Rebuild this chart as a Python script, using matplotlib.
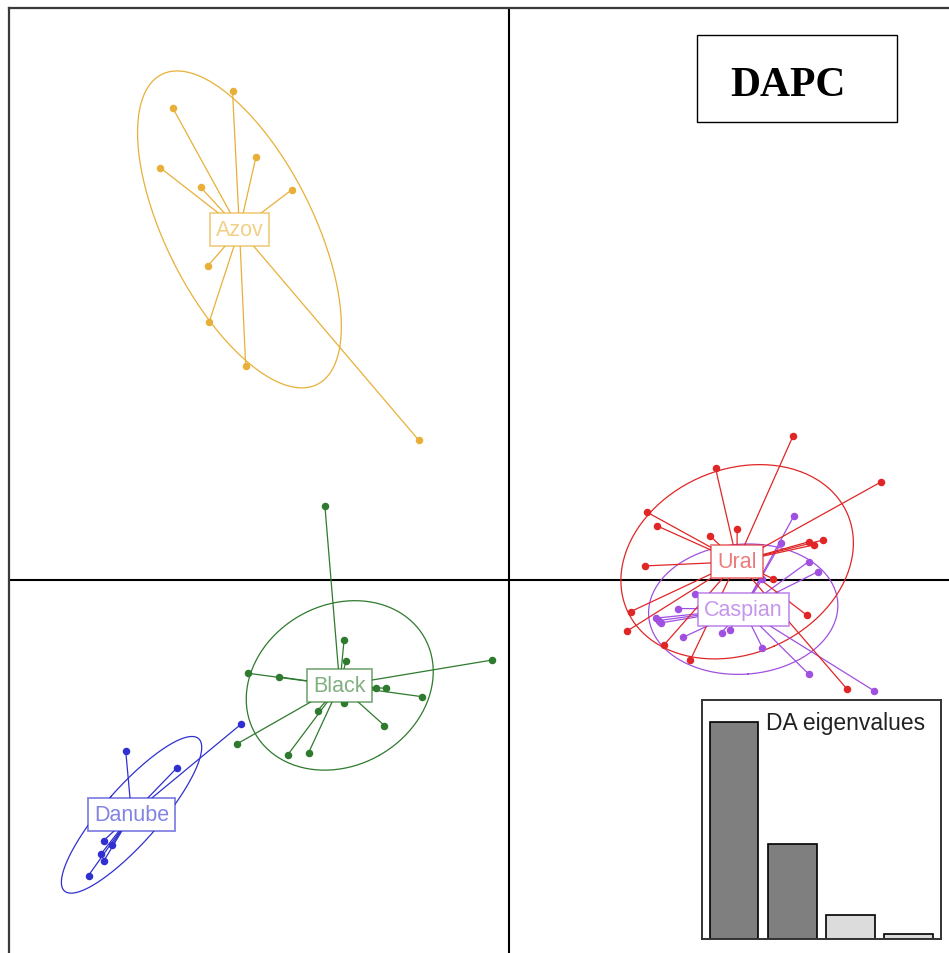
import numpy as np
import matplotlib
matplotlib.use("Agg")
import matplotlib.pyplot as plt
from matplotlib.patches import Rectangle

# Discriminant scores (LD1, LD2) of individuals for each population
azov_x = [-4.60, -5.60, -4.21, -5.81, -5.13, -3.61, -5.01, -4.99, -4.38, -1.50]
azov_y = [8.15, 7.87, 7.04, 6.87, 6.54, 6.50, 5.23, 4.29, 3.56, 2.33]

black_x = [-3.06, -2.74, -2.71, -4.34, -3.82, -0.28, -2.21, -2.05, -1.44, -2.75,
           -3.18, -2.07, -4.53, -3.68, -3.33]
black_y = [1.23, -1.00, -1.36, -1.56, -1.62, -1.34, -1.81, -1.81, -1.95, -2.06,
           -2.18, -2.43, -2.74, -2.92, -2.88]

danube_x = [-4.46, -6.38, -5.53, -6.75, -6.61, -6.79, -6.74, -7.00]
danube_y = [-2.41, -2.85, -3.14, -4.35, -4.42, -4.57, -4.68, -4.93]

ural_x = [4.74, 6.21, 3.45, 2.30, 2.47, 3.36, 3.81, 5.00, 5.09, 5.24, 2.28, 4.40,
          2.04, 1.97, 4.97, 2.59, 3.03, 5.64]
ural_y = [2.39, 1.63, 1.86, 1.13, 0.90, 0.73, 0.85, 0.63, 0.58, 0.66, 0.23, 0.02,
          -0.53, -0.86, -0.59, -1.09, -1.34, -1.82]

caspian_x = [4.76, 4.54, 5.00, 5.15, 4.23, 3.11, 2.82, 2.46, 2.51, 2.54, 2.91,
             3.55, 3.69, 4.23, 5.00, 6.09]
caspian_y = [1.07, 0.61, 0.30, 0.13, 0.01, -0.24, -0.48, -0.64, -0.68, -0.72,
             -0.96, -0.88, -0.83, -1.13, -1.57, -1.85]

pop_names = ["Azov", "Black", "Caspian", "Danube", "Ural"]
pop_colors = ["#E8B038", "#2E7A2E", "#A050E0", "#3030D0", "#E02626"]

# DA eigenvalues (scree inset)
da_eigenvalues = [4.32, 1.90, 0.472, 0.10]
eig_retained = 2

groups = {
    "Azov": (azov_x, azov_y),
    "Black": (black_x, black_y),
    "Caspian": (caspian_x, caspian_y),
    "Danube": (danube_x, danube_y),
    "Ural": (ural_x, ural_y),
}

cellipse = 1.45

W, H = 949, 954
fig = plt.figure(figsize=(W / 100, H / 100), dpi=100)
plt.rcParams["font.family"] = ["Liberation Sans", "DejaVu Sans"]

# Main scatter axes (frame runs past the right and bottom edges)
px_per_unit = 60.0
left_px, top_px, right_px, bot_px = 8.5, 9.0, 962.0, 966.0
x0_px, y0_px = 508.5, 580.7
ax = fig.add_axes([left_px / W, 1 - bot_px / H,
                   (right_px - left_px) / W, (bot_px - top_px) / H])
ax.set_xlim((left_px - x0_px) / px_per_unit, (right_px - x0_px) / px_per_unit)
ax.set_ylim((y0_px - bot_px) / px_per_unit, (y0_px - top_px) / px_per_unit)
ax.set_xticks([])
ax.set_yticks([])
for s in ax.spines.values():
    s.set_color("#3a3a3a")
    s.set_linewidth(1.6)

ax.axhline(0, color="black", lw=1.5, zorder=1)
ax.axvline(0, color="black", lw=1.5, zorder=1)

t = np.linspace(0, 2 * np.pi, 200)
for name, col in zip(pop_names, pop_colors):
    xs = np.asarray(groups[name][0])
    ys = np.asarray(groups[name][1])
    cx, cy = xs.mean(), ys.mean()
    # covariance ellipse (population weights 1/n)
    dx, dy = xs - cx, ys - cy
    cov = np.array([[np.mean(dx * dx), np.mean(dx * dy)],
                    [np.mean(dx * dy), np.mean(dy * dy)]])
    vals, vecs = np.linalg.eigh(cov)
    pts = vecs @ np.vstack([np.sqrt(vals[0]) * np.cos(t),
                            np.sqrt(vals[1]) * np.sin(t)]) * cellipse
    ax.plot(cx + pts[0], cy + pts[1], color=col, lw=0.9, zorder=2)
    # star segments from the centroid
    for xi, yi in zip(xs, ys):
        ax.plot([cx, xi], [cy, yi], color=col, lw=0.9, zorder=3)
    ax.plot(xs, ys, "o", color=col, ms=4.4, mec=col, zorder=4)

for name, col in zip(pop_names, pop_colors):
    xs = np.asarray(groups[name][0])
    ys = np.asarray(groups[name][1])
    ax.text(xs.mean(), ys.mean(), name, ha="center", va="center",
            fontsize=15.5, color=col, alpha=0.6, zorder=6,
            bbox=dict(boxstyle="square,pad=0.28", fc="white",
                      ec=matplotlib.colors.to_rgba(col, 0.6), lw=1.3))

# Eigenvalue inset
ins_l, ins_r, ins_t, ins_b = 701.7, 941.0, 700.7, 940.0
iax = fig.add_axes([ins_l / W, 1 - ins_b / H, (ins_r - ins_l) / W,
                    (ins_b - ins_t) / H])
iax.set_facecolor("white")
bar_pos = [0.2 + 1.2 * i + 0.5 for i in range(len(da_eigenvalues))]
bar_cols = ["#7F7F7F" if i < eig_retained else "#DCDCDC"
            for i in range(len(da_eigenvalues))]
iax.bar(bar_pos, da_eigenvalues, width=1.0, color=bar_cols,
        edgecolor="black", linewidth=1.2)
iax.set_xlim(0.03, 4.97)
iax.set_ylim(0, max(da_eigenvalues) * 1.105)
iax.set_xticks([])
iax.set_yticks([])
for s in iax.spines.values():
    s.set_color("#333333")
    s.set_linewidth(1.4)
iax.text(0.933, 0.877, "DA eigenvalues", transform=iax.transAxes,
         ha="right", va="baseline", fontsize=16.5, color="#222222")

# Title box
fig.patches.append(Rectangle((696.7 / W, 1 - 122.7 / H), 200 / W, 86.7 / H,
                             transform=fig.transFigure, fill=False,
                             ec="black", lw=1.0, zorder=10))
fig.text(788 / W, 1 - 96 / H, "DAPC", ha="center", va="baseline",
         fontsize=30, fontweight="bold", family="Liberation Serif",
         color="black")

fig.savefig("out.png", dpi=100, facecolor="white")
